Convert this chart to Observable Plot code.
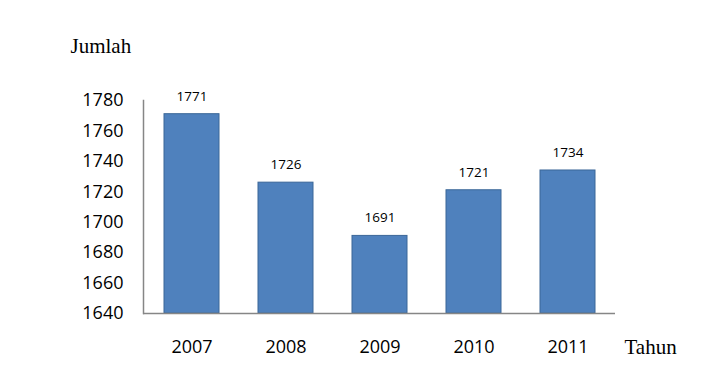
<!DOCTYPE html>
<html>
<head>
<meta charset="utf-8">
<script src="https://cdn.jsdelivr.net/npm/d3@7"></script>
<script src="https://cdn.jsdelivr.net/npm/@observablehq/plot@0.6"></script>
<style>
  body { margin: 0; background: #fff; }
  svg { display: block; }
</style>
</head>
<body>
<div id="chart"></div>
<script>
const years = ["2007", "2008", "2009", "2010", "2011"];
const values = [1771, 1726, 1691, 1721, 1734];
const yTicks = [1640, 1660, 1680, 1700, 1720, 1740, 1760, 1780];
const yLabel = "Jumlah";
const xLabel = "Tahun";

const data = years.map((y, i) => ({year: y, value: values[i]}));

const chart = Plot.plot({
  width: 725,
  height: 377,
  marginLeft: 143,
  marginRight: 110,
  marginTop: 100,
  marginBottom: 64,
  style: {fontFamily: "'Open Sans', sans-serif", fontSize: "18px", color: "#000", background: "#fff"},
  x: {domain: years, paddingInner: 0.42, paddingOuter: 0.2, label: null, tickSize: 0, tickPadding: 27},
  y: {domain: [1640, 1780], ticks: yTicks, tickFormat: d => String(d), label: null, tickSize: 0, tickPadding: 20},
  marks: [
    Plot.rectY(data, {x: "year", y1: 1640, y2: "value", fill: "#4F81BD", stroke: "#3B6798", strokeWidth: 1}),
    Plot.text(data, {x: "year", y: "value", text: d => String(d.value), dy: -18, fontSize: 13.5, fill: "#000"}),
    Plot.frame({anchor: "left", stroke: "#868686", strokeWidth: 1.5}),
    Plot.ruleY([1640], {stroke: "#868686", strokeWidth: 1.5}),
    Plot.text([yLabel], {frameAnchor: "top-left", lineAnchor: "middle", dx: -73, dy: -54, textAnchor: "start", fontFamily: "'Liberation Serif', serif", fontSize: 21, fill: "#000"}),
    Plot.text([xLabel], {frameAnchor: "bottom-right", lineAnchor: "middle", dx: 9, dy: 34, textAnchor: "start", fontFamily: "'Liberation Serif', serif", fontSize: 21, fill: "#000"})
  ]
});
document.getElementById("chart").appendChild(chart);
</script>
</body>
</html>
